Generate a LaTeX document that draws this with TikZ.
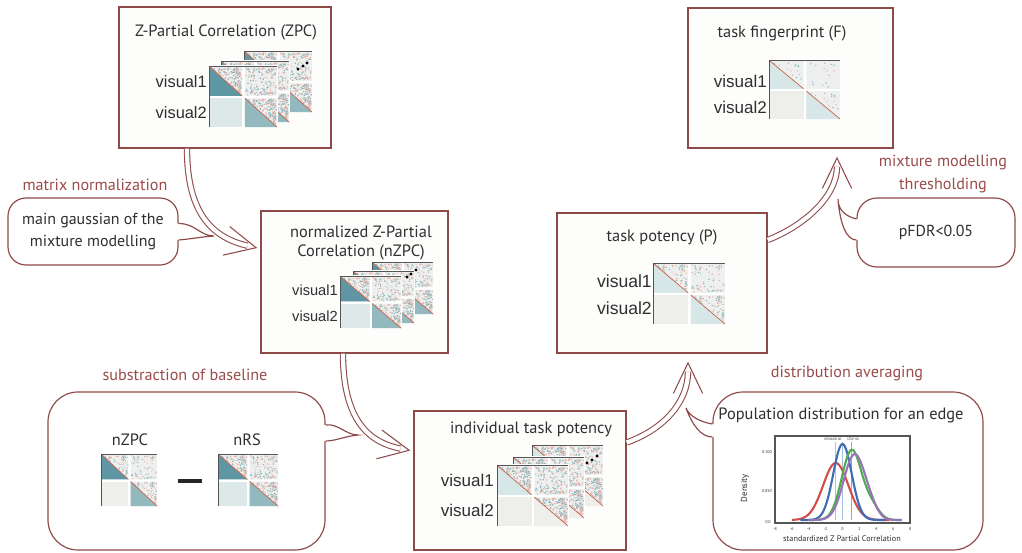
\documentclass[tikz,border=0pt]{standalone}
\usepackage{fontspec}
\setmainfont{PT Sans}
\newfontfamily\visfont{Liberation Sans}
\usetikzlibrary{arrows.meta,calc}
\definecolor{frame}{HTML}{8E4A48}
\definecolor{stepred}{HTML}{9A4C4A}
\definecolor{textgray}{HTML}{2F2F2F}
\definecolor{boxfill}{HTML}{FDFDFB}
\definecolor{spkbase}{HTML}{EDF0EE}
\definecolor{spkred}{HTML}{E9AFA2}
\definecolor{spkteal}{HTML}{86B4BD}
\definecolor{tealdark}{HTML}{5E97A3}
\definecolor{tealmid}{HTML}{93B9BE}
\definecolor{teallight}{HTML}{D7E6E6}
\definecolor{paleblock}{HTML}{DDE9E9}
\definecolor{greyblock}{HTML}{EEEEEA}
\definecolor{diagred}{HTML}{C9654D}
\definecolor{axisgray}{HTML}{555555}
\definecolor{curvered}{HTML}{D24E4A}
\definecolor{curveblue}{HTML}{3D6DB4}
\definecolor{curvegreen}{HTML}{4DAE4F}
\definecolor{curvepurple}{HTML}{9873B6}
\tikzset{
  stagebox/.style={draw=frame, line width=1.2pt, fill=boxfill, inner sep=0pt},
  bubble/.style={draw=frame, line width=1pt, fill=white, inner sep=0pt, align=center,
    text=textgray, font=\fontsize{13.6}{19.5}\selectfont},
  boxtitle/.style={text=textgray, inner sep=0pt, align=center, font=\fontsize{14}{17}\selectfont},
  steplabel/.style={text=stepred, inner sep=0pt, align=center, font=\fontsize{13.8}{19}\selectfont},
  vislabel/.style={text=textgray, anchor=east, inner sep=0pt, font=\visfont\fontsize{#1}{#1}\selectfont},
  vislabel/.default=14,
  ticklab/.style={text=textgray, inner sep=0pt, font=\fontsize{3.5}{4}\selectfont},
  flowarr/.style={draw=frame, line width=0.9pt, double=white, double distance=3.6pt, shorten >=8.5pt},
  flowtip/.style={draw=frame, line width=0.9pt, -{Straight Barb[length=26pt, width=25pt]}},
  tailline/.style={draw=frame, line width=1pt},
  pics/corrmat/.style n args={4}{code={
    \pgfmathsetseed{17}
    \fill[white] (-0.03,-0.03) rectangle (1.02,1.02);
    \fill[spkbase] (0,0) rectangle (0.48,0.48) (0.52,0) rectangle (1,0.48) (0.52,0.52) rectangle (1,1);
    \fill[#1] (0,0) -- (0,0.48) -- (0.48,0.48) -- cycle;
    \fill[#2] (0,0.52) rectangle (0.48,1);
    \fill[#3] (0.52,0.52) -- (0.52,1) -- (1,1) -- cycle;
    \foreach \k in {1,...,#4} {
      \pgfmathsetmacro\su{rnd}\pgfmathsetmacro\sv{rnd}
      \pgfmathsetmacro\sa{max(\su,\sv)}\pgfmathsetmacro\sb{min(\su,\sv)}
      \ifodd\k\def\spkc{spkred}\else\def\spkc{spkteal}\fi
      \fill[color=\spkc] (0.46*\sa,0.46*\sb) rectangle ++(0.018,0.018)
        (0.52+0.46*\su,0.46*\sv) rectangle ++(0.018,0.018)
        (0.52+0.46*\sa,0.52+0.46*\sb) rectangle ++(0.018,0.018);
    }
    \draw[diagred, line width=0.6pt] (0,0) -- (0.48,0.48) (0.52,0.52) -- (1,1);
    \draw[axisgray, line width=1.3pt] (-0.01,1) -- (-0.01,-0.01) -- (1,-0.01);
  }}
}
\begin{document}
\begin{tikzpicture}[x=0.03cm,y=-0.03cm]
  \useasboundingbox (0,0) rectangle (1022,552);
  \fill[white] (0,0) rectangle (1022,552);
  % stage boxes
  \node[stagebox, minimum width=6.36cm, minimum height=4.23cm] (zpc) at (225,77.5) {};
  \node[boxtitle] (zpct) at (226,32) {Z-Partial Correlation (ZPC)};
  \node[stagebox, minimum width=5.61cm, minimum height=4.26cm] (nzpc) at (354.5,282) {};
  \node[boxtitle] (nzpct) at (361,243) {normalized Z-Partial\\Correlation (nZPC)};
  \node[stagebox, minimum width=6.3cm, minimum height=4.2cm] (pot) at (662,283) {};
  \node[boxtitle] (pott) at (662,237) {task potency (P)};
  \node[stagebox, minimum width=6.15cm, minimum height=4.2cm] (fp) at (790.5,78) {};
  \node[boxtitle] (fpt) at (782,33) {task fingerprint (F)};
  \node[stagebox, minimum width=6.36cm, minimum height=4.17cm] (ind) at (520,480.5) {};
  \node[boxtitle] (indt) at (531,429) {individual task potency};
  % matrices
  \foreach \dx/\dy in {35/-15, 12/-5, 0/0}
    \pic[xscale=67, yscale=60] at (210+\dx,67+\dy) {corrmat={tealdark}{paleblock}{tealmid}{150}};
  \foreach \px/\py in {298/69, 303/66, 307/63}
    \fill (\px,\py) circle[radius=1.7];
  \foreach \dx/\dy in {32/-14, 13/-5, 0/0}
    \pic[xscale=60, yscale=51] at (341+\dx,277+\dy) {corrmat={tealdark}{paleblock}{tealmid}{130}};
  \foreach \px/\py in {407/277, 411/274, 416/270}
    \fill (\px,\py) circle[radius=1.6];
  \foreach \dx/\dy in {35/-20, 16/-8, 0/0}
    \pic[xscale=70, yscale=60] at (498+\dx,466+\dy) {corrmat={teallight}{greyblock}{greyblock}{150}};
  \foreach \px/\py in {587/463, 592/460, 597/456}
    \fill (\px,\py) circle[radius=1.7];
  \pic[xscale=71, yscale=60] at (654,264) {corrmat={teallight}{greyblock}{teallight}{60}};
  \pic[xscale=70, yscale=58] at (770,61) {corrmat={teallight}{greyblock}{teallight}{14}};
  % row labels
  \node[vislabel] (zpcv1) at (207,82) {visual1};
  \node[vislabel] (zpcv2) at (207,113) {visual2};
  \node[vislabel=12.5] (nzpcv1) at (338,290) {visual1};
  \node[vislabel=12.5] (nzpcv2) at (338,316) {visual2};
  \node[vislabel=15] (potv1) at (652,281) {visual1};
  \node[vislabel=15] (potv2) at (652,308) {visual2};
  \node[vislabel=14.5] (fpv1) at (767,81) {visual1};
  \node[vislabel=14.5] (fpv2) at (767,107) {visual2};
  \node[vislabel=14.5] (indv1) at (494,480) {visual1};
  \node[vislabel=14.5] (indv2) at (494,510) {visual2};
  % flow arrows
  \coordinate (a1e) at ($(nzpc.west)+(-3,-34)$);
  \coordinate (a1d) at ($(a1e)+(-43,-10)$);
  \coordinate (a2e) at ($(ind.west)+(-3,-30)$);
  \coordinate (a2d) at ($(a2e)+(-41,-8)$);
  \coordinate (a3e) at ($(pot.south)+(26,8)$);
  \coordinate (a3d) at ($(a3e)+(0,39)$);
  \coordinate (a4e) at ($(fp.south)+(46.5,8)$);
  \coordinate (a4d) at ($(a4e)+(0,39)$);
  \draw[flowarr] ($(zpc.south)+(-38,0)$) .. controls +(0,67) and (a1d) .. (a1e);
  \draw[flowarr] ($(nzpc.south)+(-11.5,0)$) .. controls +(0,67) and (a2d) .. (a2e);
  \draw[flowarr] ($(ind.east)+(0,-38)$) .. controls +(39,-14) and (a3d) .. (a3e);
  \draw[flowarr] ($(pot.east)+(0,-43)$) .. controls +(38,-15) and (a4d) .. (a4e);
  \foreach \a in {1,2,3,4}
    \draw[flowtip] ($(a\a e)!0.04!(a\a d)$) -- (a\a e);
  % step labels
  \node[steplabel] (normlab) at (95,185) {matrix normalization};
  \node[steplabel] (sublab) at (185,375) {substraction of baseline};
  \node[steplabel] (avglab) at (847,373) {distribution averaging};
  \node[steplabel] (thrlab) at (943,174) {mixture modelling\\thresholding};
  % callouts
  \node[bubble, rounded corners=0.54cm, minimum width=5.1cm, minimum height=2.01cm] (gauss) at (93,231.5) {main gaussian of the\\mixture modelling};
  \node[bubble, rounded corners=0.6cm, minimum width=4.74cm, minimum height=2.07cm] (pfdr) at (936,232.5) {pFDR<0.05};
  \node[bubble, rounded corners=0.9cm, minimum width=8.31cm, minimum height=4.74cm] (base) at (186.5,471) {};
  \node[bubble, rounded corners=0.9cm, minimum width=8.1cm, minimum height=4.74cm] (popd) at (848,471) {};
  \coordinate (gtip) at (214,236);
  \coordinate (ptip) at (838,199);
  \coordinate (btip) at (358,435);
  \coordinate (dtip) at (686,408);
  \fill[white] ($(gauss.east)+(-3,-8)$) -- ($(gauss.east)+(0,-8)$) .. controls +(17,0) and +(-14,0) .. (gtip)
    .. controls +(-14,1) and +(12,-1) .. ($(gauss.east)+(0,8.5)$) -- ($(gauss.east)+(-3,8.5)$) -- cycle;
  \draw[tailline] ($(gauss.east)+(0,-8)$) .. controls +(17,0) and +(-14,0) .. (gtip)
    .. controls +(-14,1) and +(12,-1) .. ($(gauss.east)+(0,8.5)$);
  \fill[white] ($(pfdr.west)+(3,-13.5)$) -- ($(pfdr.west)+(0,-13.5)$) .. controls +(-12,-3) and +(0,10) .. (ptip)
    .. controls +(2,25) and +(-10,0) .. ($(pfdr.west)+(0,7.5)$) -- ($(pfdr.west)+(3,7.5)$) -- cycle;
  \draw[tailline] ($(pfdr.west)+(0,-13.5)$) .. controls +(-12,-3) and +(0,10) .. (ptip)
    .. controls +(2,25) and +(-10,0) .. ($(pfdr.west)+(0,7.5)$);
  \fill[white] ($(base.east)+(-3,-46)$) -- ($(base.east)+(0,-46)$) .. controls +(12,-2) and +(-12,0) .. (btip)
    .. controls +(-12,1) and +(10,0) .. ($(base.east)+(0,-30)$) -- ($(base.east)+(-3,-30)$) -- cycle;
  \draw[tailline] ($(base.east)+(0,-46)$) .. controls +(12,-2) and +(-12,0) .. (btip)
    .. controls +(-12,1) and +(10,0) .. ($(base.east)+(0,-30)$);
  \fill[white] ($(popd.west)+(3,-47)$) -- ($(popd.west)+(0,-47)$) .. controls +(-12,-2) and +(3,8) .. (dtip)
    .. controls +(6,16) and +(-12,0) .. ($(popd.west)+(0,-34)$) -- ($(popd.west)+(3,-34)$) -- cycle;
  \draw[tailline] ($(popd.west)+(0,-47)$) .. controls +(-12,-2) and +(3,8) .. (dtip)
    .. controls +(6,16) and +(-12,0) .. ($(popd.west)+(0,-34)$);
  % baseline subtraction
  \node[boxtitle] (nzpcl) at (130,440) {nZPC};
  \node[boxtitle] (nrsl) at (247,440) {nRS};
  \pic[xscale=55, yscale=51] at (102,455) {corrmat={tealdark}{greyblock}{tealmid}{70}};
  \pic[xscale=59, yscale=51] at (219,455) {corrmat={tealdark}{paleblock}{tealmid}{130}};
  \draw[black!85, line width=3pt] (178,481) -- (202,481);
  % population distribution
  \node[boxtitle, font=\fontsize{14}{17}\selectfont] (popt) at (841,415) {Population distribution for an edge};
  \draw[axisgray, line width=1.4pt] (775,436) rectangle (910,523);
  \foreach \t [count=\i] in {-8,-6,...,8}
    \node[ticklab] (xt\i) at ({842.5+8.44*\t},529) {\t};
  \node[ticklab] (yt1) at (767,452) {0.100};
  \node[ticklab] (yt2) at (767,491) {0.050};
  \node[ticklab] (yt3) at (768,522) {0.0};
  \node[ticklab, font=\fontsize{2.8}{3}\selectfont] (hd1) at (833,439) {REWARD 00};
  \node[ticklab, font=\fontsize{2.8}{3}\selectfont] (hd2) at (853,439) {STOP 00};
  \node[text=textgray, rotate=90, inner sep=0pt, font=\fontsize{7.5}{9}\selectfont] (dens) at (745,488) {Density};
  \node[text=textgray, inner sep=0pt, font=\fontsize{7}{9}\selectfont] (xlab) at (842,539) {standardized Z Partial Correlation};
  \begin{scope}[shift={(842.5,520)}, x=0.2532cm]
    \draw[curvered!45, line width=0.7pt] (-0.8,0) -- (-0.8,-78);
    \draw[curveblue!45, line width=0.7pt] (0,0) -- (0,-78);
    \draw[gray!70, line width=0.7pt] (1.1,0) -- (1.1,-78);
    \draw[curvered, line width=1.8pt, domain=-6:5.5, samples=70, smooth] plot (\x, {-57*exp(-(\x+0.8)^2/4.5)});
    \draw[curveblue, line width=1.8pt, domain=-5:5, samples=70, smooth] plot (\x, {-76*exp(-(\x)^2/2.4)});
    \draw[curvegreen, line width=1.8pt, domain=-4:7, samples=70, smooth] plot (\x, {-70*exp(-(\x-1.1)^2/2.8)-12*exp(-(\x-3.5)^2/1.6)});
    \draw[curvepurple, line width=1.8pt, domain=-4:7, samples=70, smooth] plot (\x, {-65*exp(-(\x-1.4)^2/3.2)-8*exp(-(\x-3.3)^2/1.6)});
  \end{scope}
\end{tikzpicture}
\end{document}
